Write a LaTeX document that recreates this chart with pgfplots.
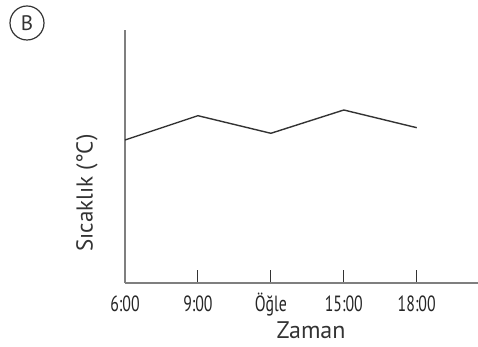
\documentclass[border=0pt]{standalone}
\usepackage{fontspec}
\setmainfont{PT Sans}
\newfontfamily\condfont[FakeStretch=0.72]{PT Sans}
\usepackage{pgfplots}
\pgfplotsset{compat=1.18}
\definecolor{axgray}{HTML}{7F7F7F}
\definecolor{linegray}{HTML}{333333}
\begin{document}
\begin{tikzpicture}
\path[use as bounding box] (0pt,0pt) rectangle (478pt,347pt);
\node[draw=linegray, circle, line width=1.2pt, inner sep=0pt, minimum size=34pt, font=\fontsize{21}{21}\selectfont, text=linegray] at (27pt,324pt) {B};
\begin{axis}[
  at={(125pt,64pt)}, anchor=origin,
  scale only axis, width=353pt, height=253pt,
  xmin=0, xmax=4.84, ymin=0, ymax=253,
  axis lines*=left,
  axis line style={-, draw=axgray, line width=1.6pt},
  xtick={0,1,2,3,4},
  xticklabels={6:00,9:00,Öğle,15:00,18:00},
  ytick=\empty,
  xtick pos=bottom,
  xtick align=inside,
  major tick length=13pt,
  xtick style={draw=linegray, line width=1pt},
  xticklabel style={font=\condfont\fontsize{22}{22}\selectfont, text=black!85, anchor=base, yshift=-29pt},
  xlabel={Zaman},
  ylabel={Sıcaklık (°C)},
  xlabel style={at={(axis description cs:0.527,-0.185)}, anchor=center, font=\fontsize{24}{24}\selectfont, text=linegray},
  ylabel style={at={(axis description cs:-0.108,0.356)}, anchor=center, font=\fontsize{23}{23}\selectfont, text=linegray},
  clip=false,
]
\addplot[linegray, line width=1.4pt, mark=none] coordinates {
  (0,143) (1,167.3) (2,149.7) (3,173) (4,155.3)
};
\end{axis}
\end{tikzpicture}
\end{document}
